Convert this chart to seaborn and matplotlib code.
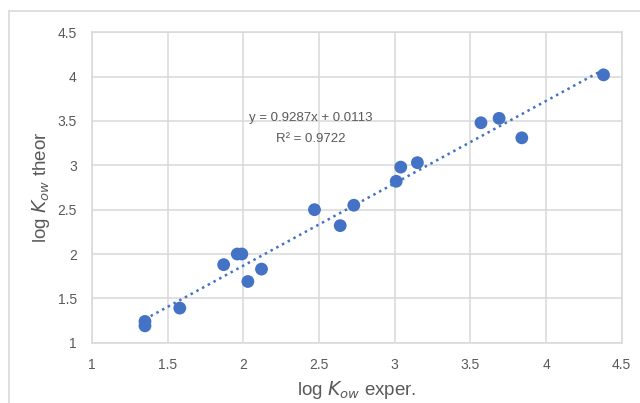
import numpy as np
import pandas as pd
import seaborn as sns
import matplotlib
matplotlib.use("Agg")
import matplotlib.pyplot as plt
from matplotlib.lines import Line2D

# data
log_kow_exper = [1.35, 1.35, 1.58, 1.87, 1.96, 1.99, 2.03, 2.12, 2.47, 2.64,
                 2.73, 3.01, 3.04, 3.15, 3.57, 3.69, 3.84, 4.38]
log_kow_theor = [1.24, 1.19, 1.39, 1.88, 2.00, 2.00, 1.69, 1.83, 2.50, 2.32,
                 2.55, 2.82, 2.98, 3.03, 3.48, 3.53, 3.31, 4.02]
slope = 0.9287
intercept = 0.0113
r_squared = 0.9722
ticks = [1, 1.5, 2, 2.5, 3, 3.5, 4, 4.5]
tick_labels = ["1", "1.5", "2", "2.5", "3", "3.5", "4", "4.5"]

df = pd.DataFrame({"x": log_kow_exper, "y": log_kow_theor})

sns.set_theme(style="white")
plt.rcParams["font.family"] = ["Liberation Sans", "DejaVu Sans"]

blue = "#4472C4"
grid_c = "#d9d9d9"
text_c = "#595959"

fig = plt.figure(figsize=(6.4, 4.03), dpi=100)
ax = fig.add_axes([92 / 640, 1 - 342.7 / 403, (621.7 - 92) / 640, (342.7 - 32.3) / 403])

# outer chart border
fig.add_artist(Line2D([9 / 640, 9 / 640], [0, 1 - 11 / 403], transform=fig.transFigure,
                      color=grid_c, lw=1.2))
fig.add_artist(Line2D([9 / 640, 1], [1 - 11 / 403, 1 - 11 / 403], transform=fig.transFigure,
                      color=grid_c, lw=1.2))

# trendline
xs = np.array([min(log_kow_exper), max(log_kow_exper)])
ax.plot(xs, slope * xs + intercept, linestyle=(0, (1, 1.6)), color=blue, lw=1.8, zorder=2)

sns.scatterplot(data=df, x="x", y="y", ax=ax, color=blue, s=85, edgecolor="none",
                zorder=3, legend=False)

ax.set_xlim(1, 4.5)
ax.set_ylim(1, 4.5)
ax.set_xticks(ticks)
ax.set_xticklabels(tick_labels)
ax.set_yticks(ticks)
ax.set_yticklabels(tick_labels)
ax.grid(True, color=grid_c, lw=1.1)
ax.set_axisbelow(True)
for sp in ax.spines.values():
    sp.set_color(grid_c)
    sp.set_linewidth(1.1)
ax.tick_params(axis="both", length=0, labelsize=10, labelcolor=text_c)
ax.tick_params(axis="x", pad=11)
ax.tick_params(axis="y", pad=11)

ax.set_xlabel(r"log $K_{ow}$ exper.", fontsize=13.5, color=text_c, labelpad=5)
ax.set_ylabel(r"log $K_{ow}$ theor", fontsize=13.5, color=text_c, labelpad=4)

eq_x = (311 - 92) / (621.7 - 92) * 3.5 + 1
ax.text(eq_x, 4.5 - (118 - 32.3) / 88.7,
        f"y = {slope}x + {intercept}", ha="center", va="center", fontsize=9.5, color=text_c)
ax.text(eq_x, 4.5 - (139 - 32.3) / 88.7,
        f"R² = {r_squared}", ha="center", va="center", fontsize=9.5, color=text_c)

fig.savefig("out.png", dpi=100)
